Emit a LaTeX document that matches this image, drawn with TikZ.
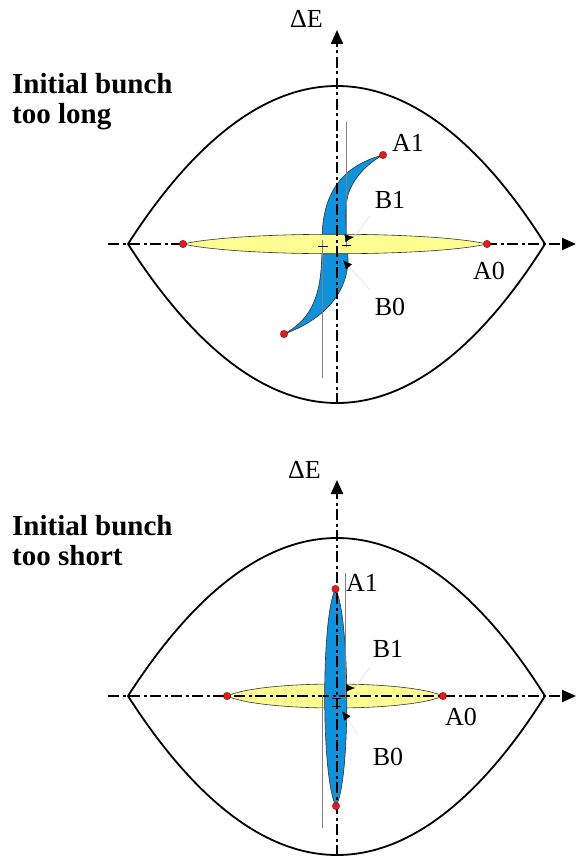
\documentclass[tikz,border=0pt]{standalone}
\usepackage{fontspec}
\setmainfont{Liberation Serif}
\newfontfamily\timesfont{Liberation Serif}
\usetikzlibrary{arrows.meta}
\definecolor{bunchblue}{RGB}{15,145,220}
\definecolor{bunchyellow}{RGB}{252,252,145}
\definecolor{dotred}{RGB}{220,30,30}
\tikzset{
  axisline/.style={line width=2.2pt, dash pattern=on 11pt off 3.5pt on 3pt off 3.5pt, -{Triangle[length=14pt,width=12pt]}},
  sepx/.style={line width=1.8pt},
  guide/.style={gray, line width=0.8pt},
  reddot/.style={circle, fill=dotred, draw=red!50!black, line width=0.3pt, inner sep=0pt, minimum size=7.5pt},
  lbl/.style={font=\timesfont\fontsize{26}{28}\selectfont, inner sep=0pt},
  titletext/.style={font=\timesfont\bfseries\fontsize{29}{30}\selectfont, align=left, anchor=north west, inner sep=0pt},
  marktip/.style={-{Latex[length=9pt,width=8pt]}, line width=0.4pt},
  faint/.style={black!12, line width=0.6pt},
  bluefill/.style={fill=bunchblue, draw=black!80, line width=0.6pt},
  yellowfill/.style={fill=bunchyellow, draw=black!80, line width=0.6pt},
  tick/.style={black, line width=0.7pt},
  bucket/.pic={
    \draw[sepx] (128,244) .. controls (178,166) and (250,86) .. (337,86)
      .. controls (424,86) and (496,166) .. (545,244)
      .. controls (496,322) and (424,403) .. (337,403)
      .. controls (250,403) and (178,322) .. (128,244) -- cycle;
  }
}
\begin{document}
\begin{tikzpicture}[x=1pt,y=-1pt]
\useasboundingbox (0,0) rectangle (576,856);

% ================= TOP: too long =================
\node[titletext] (t1) at (12,73) {Initial bunch\\too long};
\pic {bucket};
\draw[axisline] (108,244) -- (576,244);
% blue S-shaped bunch
\draw[bluefill] (383,155) .. controls (345,165) and (322,190) .. (322,240)
  .. controls (322,280) and (320,315) .. (284,334)
  .. controls (318,322) and (346,298) .. (348,262)
  .. controls (348,240) and (343,215) .. (348,195)
  .. controls (353,178) and (368,163) .. (383,155) -- cycle;
% yellow initial bunch
\draw[yellowfill] (183,244) .. controls (240,231) and (430,231) .. (487,244)
  .. controls (430,257) and (240,257) .. (183,244) -- cycle;
\draw[axisline] (337,404) -- (337,30);
\node[lbl, anchor=east] (dE1) at (323,19) {ΔE};
% guides
\draw[guide] (346,122) -- (346,247);
\draw[guide] (322.7,240) -- (322.7,378);
\draw[tick] (318,246.5) -- (327.5,246.5);
\draw[tick] (341.5,245) -- (350.5,245);
% faint leader lines and markers
\coordinate (m1a) at (370,216);
\coordinate (m1b) at (354,237);
\coordinate (m0a) at (370,290);
\coordinate (m0b) at (343,260);
\draw[faint] (m1a) -- (m1b);
\draw[faint] (m0a) -- (m0b);
\draw[marktip] (346,238) -- (m1b);
\draw[marktip] (349,267) -- (m0b);
% dots
\node[reddot] (A1t) at (383,155) {};
\node[reddot] (Bt) at (284,334) {};
\node[reddot] (Lt) at (183,244) {};
\node[reddot] (A0t) at (487,244) {};
% labels
\node[lbl] (lA1t) at (408,143) {A1};
\node[lbl] (lB1t) at (390,200) {B1};
\node[lbl] (lB0t) at (390,307) {B0};
\node[lbl] (lA0t) at (489,271) {A0};

% ================= BOTTOM: too short =================
\node[titletext] (t2) at (12,515) {Initial bunch\\too short};
\begin{scope}[shift={(0,452)}]
  \pic {bucket};
\end{scope}
% yellow initial bunch
\draw[yellowfill] (227,696) .. controls (262,680) and (408,680) .. (443,696)
  .. controls (408,712) and (262,712) .. (227,696) -- cycle;
% blue vertical bunch
\draw[bluefill] (335.5,589) .. controls (321,615) and (321,780) .. (336,806)
  .. controls (351,780) and (350,615) .. (335.5,589) -- cycle;
\draw[axisline] (108,696) -- (576,696);
\draw[axisline] (337,856) -- (337,480);
\node[lbl, anchor=east] (dE2) at (321,470) {ΔE};
% guides
\draw[guide] (345,573) -- (345,700);
\draw[guide] (322.7,695) -- (322.7,828);
\draw[tick] (332,698) -- (341,698);
\draw[tick] (332,706) -- (341,706);
% faint leader lines and markers
\coordinate (n1a) at (370,667);
\coordinate (n1b) at (355,688);
\coordinate (n0a) at (358,735);
\coordinate (n0b) at (342,711);
\draw[faint] (n1a) -- (n1b);
\draw[faint] (n0a) -- (n0b);
\draw[marktip] (347,688) -- (n1b);
\draw[marktip] (347,718) -- (n0b);
% dots
\node[reddot] (A1b) at (335.5,589) {};
\node[reddot] (Bb) at (336,806) {};
\node[reddot] (Lb) at (227,696) {};
\node[reddot] (A0b) at (443,696) {};
% labels
\node[lbl] (lA1b) at (362,583) {A1};
\node[lbl] (lB1b) at (388,649) {B1};
\node[lbl] (lB0b) at (388,757) {B0};
\node[lbl] (lA0b) at (461,717) {A0};
\end{tikzpicture}
\end{document}
